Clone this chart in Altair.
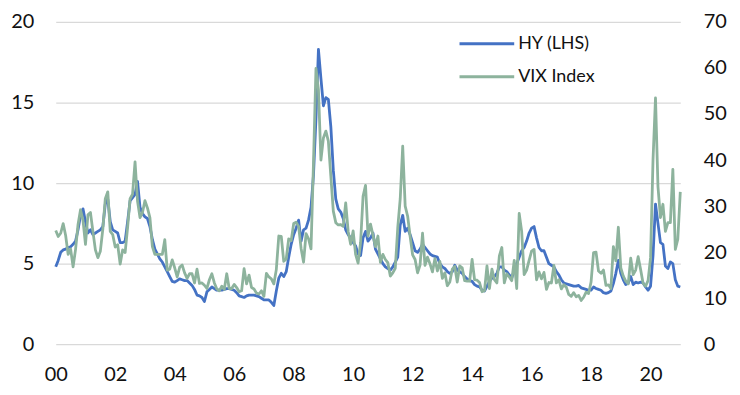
import altair as alt
import pandas as pd

# Monthly values, Jan 2000 .. Jan 2021
hy_2000 = [4.8, 5.2, 5.7, 5.85, 5.9, 6.0, 6.05, 6.2, 6.4, 7.1, 8.0, 8.4]
hy_2001 = [7.6, 6.9, 7.1, 6.8, 6.9, 7.0, 7.1, 7.3, 8.7, 9.0, 7.6, 7.1]
hy_2002 = [7.0, 6.9, 6.3, 6.3, 6.4, 7.6, 8.9, 9.1, 9.3, 10.1, 8.5, 8.1]
hy_2003 = [7.9, 7.8, 7.3, 6.5, 5.9, 5.6, 5.3, 5.1, 4.8, 4.5, 4.2, 3.9]
hy_2004 = [3.85, 3.95, 4.05, 4.0, 3.95, 3.95, 3.8, 3.65, 3.4, 3.05, 3.0, 2.9]
hy_2005 = [2.65, 3.25, 3.4, 3.55, 3.45, 3.35, 3.35, 3.35, 3.4, 3.45, 3.45, 3.4]
hy_2006 = [3.35, 3.2, 3.0, 2.95, 2.9, 3.0, 3.05, 3.05, 3.05, 3.0, 2.95, 2.85]
hy_2007 = [2.75, 2.75, 2.75, 2.6, 2.4, 3.3, 4.1, 4.4, 4.2, 4.5, 5.4, 6.2]
hy_2008 = [6.8, 7.2, 7.7, 6.4, 7.1, 7.2, 7.7, 8.5, 10.5, 14.0, 18.3, 16.5]
hy_2009 = [14.8, 15.3, 15.2, 13.5, 10.8, 9.0, 8.4, 8.2, 7.8, 7.1, 6.8, 6.6]
hy_2010 = [6.3, 6.1, 5.6, 5.5, 6.6, 7.0, 6.4, 6.6, 6.9, 5.9, 5.6, 5.3]
hy_2011 = [5.0, 4.8, 4.7, 4.6, 4.8, 5.1, 5.4, 7.4, 8.0, 7.0, 7.2, 6.8]
hy_2012 = [6.3, 5.8, 5.7, 5.9, 6.2, 6.0, 5.8, 5.6, 5.5, 5.45, 5.4, 5.0]
hy_2013 = [4.8, 4.7, 4.5, 4.4, 4.5, 4.9, 4.6, 4.5, 4.4, 4.2, 4.05, 3.95]
hy_2014 = [3.9, 3.7, 3.6, 3.55, 3.35, 3.3, 3.6, 3.9, 4.1, 4.2, 4.4, 4.8]
hy_2015 = [4.8, 4.6, 4.5, 4.3, 4.1, 4.6, 5.0, 5.4, 5.8, 6.0, 6.4, 6.9]
hy_2016 = [7.2, 7.3, 6.6, 6.0, 5.8, 5.8, 5.4, 5.0, 4.9, 4.8, 4.5, 4.3]
hy_2017 = [4.0, 3.8, 3.75, 3.7, 3.65, 3.6, 3.6, 3.65, 3.5, 3.45, 3.4, 3.35]
hy_2018 = [3.35, 3.55, 3.46, 3.4, 3.35, 3.2, 3.15, 3.2, 3.3, 3.76, 4.4, 5.2]
hy_2019 = [4.4, 4.0, 3.7, 3.8, 4.2, 3.7, 3.85, 3.8, 3.85, 3.8, 3.55, 3.35]
hy_2020 = [3.6, 5.5, 8.7, 7.5, 6.3, 6.2, 4.85, 4.7, 5.1, 5.0, 4.0, 3.6]
hy_2021 = [3.55]

vix_2000 = [24.7, 23.4, 24.1, 26.2, 23.6, 19.5, 20.7, 16.8, 20.6, 26.0, 29.2, 26.9]
vix_2001 = [21.7, 28.1, 28.6, 24.5, 20.5, 18.8, 20.2, 25.0, 31.6, 33.1, 24.5, 23.8]
vix_2002 = [21.1, 21.6, 17.4, 20.5, 19.9, 25.4, 31.6, 32.6, 39.6, 31.1, 27.5, 28.6]
vix_2003 = [31.2, 29.6, 27.5, 21.2, 19.5, 19.5, 19.5, 19.5, 22.7, 16.1, 16.3, 18.3]
vix_2004 = [16.6, 14.6, 16.7, 17.2, 15.5, 14.3, 15.3, 15.3, 13.3, 16.3, 13.2, 13.3]
vix_2005 = [12.8, 12.1, 14.0, 15.3, 13.3, 12.0, 11.6, 12.6, 11.9, 15.3, 12.1, 12.1]
vix_2006 = [13.0, 12.3, 11.4, 11.6, 16.4, 13.1, 15.0, 12.3, 12.0, 11.1, 10.9, 11.6]
vix_2007 = [10.4, 15.4, 14.6, 14.2, 13.1, 16.2, 23.5, 23.4, 18.0, 18.5, 22.9, 22.5]
vix_2008 = [26.2, 26.5, 25.6, 20.8, 17.8, 24.0, 22.9, 20.7, 39.4, 59.9, 55.3, 40.0]
vix_2009 = [44.8, 46.3, 44.1, 36.5, 28.9, 26.4, 25.9, 26.0, 25.6, 30.7, 24.5, 21.7]
vix_2010 = [24.6, 19.5, 17.6, 22.1, 32.1, 34.5, 23.5, 26.1, 23.7, 21.2, 23.5, 17.8]
vix_2011 = [19.5, 18.4, 17.7, 14.8, 15.5, 16.5, 25.3, 31.6, 43.0, 30.0, 27.8, 23.4]
vix_2012 = [19.4, 18.4, 15.5, 17.2, 24.1, 17.1, 18.9, 17.5, 15.7, 18.6, 15.9, 18.0]
vix_2013 = [14.3, 15.5, 12.7, 13.5, 16.3, 16.9, 13.5, 17.0, 16.6, 13.8, 13.7, 13.7]
vix_2014 = [18.4, 14.0, 13.9, 13.4, 11.4, 11.6, 17.0, 12.1, 16.3, 14.0, 13.3, 19.2]
vix_2015 = [21.0, 13.3, 15.3, 14.6, 13.8, 18.2, 12.1, 28.4, 24.5, 15.1, 16.1, 18.2]
vix_2016 = [20.2, 20.6, 14.0, 15.7, 14.2, 15.6, 11.9, 13.4, 13.3, 17.1, 13.3, 14.0]
vix_2017 = [12.0, 12.9, 12.4, 10.8, 10.4, 11.2, 10.3, 10.6, 9.5, 10.2, 11.3, 11.0]
vix_2018 = [13.5, 19.9, 20.0, 15.9, 15.4, 16.1, 12.8, 12.9, 12.1, 21.2, 18.1, 25.4]
vix_2019 = [16.6, 14.8, 13.7, 13.1, 18.7, 15.1, 16.1, 19.0, 16.2, 13.2, 12.6, 13.8]
vix_2020 = [18.8, 40.1, 53.5, 34.2, 27.5, 30.4, 24.5, 26.4, 26.4, 38.0, 20.6, 22.8]
vix_2021 = [33.1]

hy = (hy_2000 + hy_2001 + hy_2002 + hy_2003 + hy_2004 + hy_2005 + hy_2006 + hy_2007
      + hy_2008 + hy_2009 + hy_2010 + hy_2011 + hy_2012 + hy_2013 + hy_2014 + hy_2015
      + hy_2016 + hy_2017 + hy_2018 + hy_2019 + hy_2020 + hy_2021)
vix = (vix_2000 + vix_2001 + vix_2002 + vix_2003 + vix_2004 + vix_2005 + vix_2006 + vix_2007
       + vix_2008 + vix_2009 + vix_2010 + vix_2011 + vix_2012 + vix_2013 + vix_2014 + vix_2015
       + vix_2016 + vix_2017 + vix_2018 + vix_2019 + vix_2020 + vix_2021)

x_ticks = [2000, 2002, 2004, 2006, 2008, 2010, 2012, 2014, 2016, 2018, 2020]
left_ticks = [0, 5, 10, 15, 20]
right_ticks = [0, 10, 20, 30, 40, 50, 60, 70]
series_names = ["HY (LHS)", "VIX Index"]
series_colors = ["#4472C4", "#8DB39D"]

t = [2000 + i / 12 for i in range(len(hy))]
df = pd.DataFrame({"t": t, "HY": hy, "VIX": vix})

FONT = "Lato"
LBL = "#111111"

x_enc = alt.X(
    "t:Q",
    scale=alt.Scale(domain=[2000, 2021], nice=False, zero=False),
    axis=alt.Axis(values=x_ticks, labelExpr="substring(toString(datum.value), 2, 4)",
                  grid=False, domain=False, ticks=False, labelFlush=False,
                  labelPadding=21, labelFontSize=20, labelFont=FONT, labelColor=LBL, title=None),
)

hy_line = alt.Chart(df).mark_line(color=series_colors[0], strokeWidth=2.8, strokeJoin="round").encode(
    x=x_enc,
    y=alt.Y("HY:Q", scale=alt.Scale(domain=[0, 20], nice=False),
            axis=alt.Axis(values=left_ticks, grid=True, gridColor="#D9D9D9", gridWidth=1.3,
                          domain=False, ticks=False, labelPadding=22, labelFontSize=20,
                          labelFont=FONT, labelColor=LBL, title=None, orient="left")),
)

vix_line = alt.Chart(df).mark_line(color=series_colors[1], strokeWidth=2.8, strokeJoin="round").encode(
    x=x_enc,
    y=alt.Y("VIX:Q", scale=alt.Scale(domain=[0, 70], nice=False),
            axis=alt.Axis(values=right_ticks, grid=False, domain=False, ticks=False,
                          labelPadding=23, labelFontSize=20, labelFont=FONT, labelColor=LBL,
                          title=None, orient="right")),
)

leg_layers = []
for i, (name, col) in enumerate(zip(series_names, series_colors)):
    d = pd.DataFrame({"label": [name]})
    yy = 22 + i * 33
    leg_layers.append(alt.Chart(d).mark_rule(color=col, strokeWidth=3).encode(
        x=alt.value(406), x2=alt.value(461), y=alt.value(yy)))
    leg_layers.append(alt.Chart(d).mark_text(align="left", baseline="middle", font=FONT,
                                             fontSize=18, color=LBL).encode(
        x=alt.value(465), y=alt.value(yy), text="label:N"))

chart = alt.layer(hy_line, vix_line, *leg_layers).resolve_scale(y="independent").properties(
    width=628, height=324,
    autosize=alt.AutoSizeParams(type="none"),
    padding={"left": 48, "top": 13, "right": 52, "bottom": 42},
).configure_view(strokeWidth=0)

chart.save("out.html", embed_options={"renderer": "svg", "actions": False})
